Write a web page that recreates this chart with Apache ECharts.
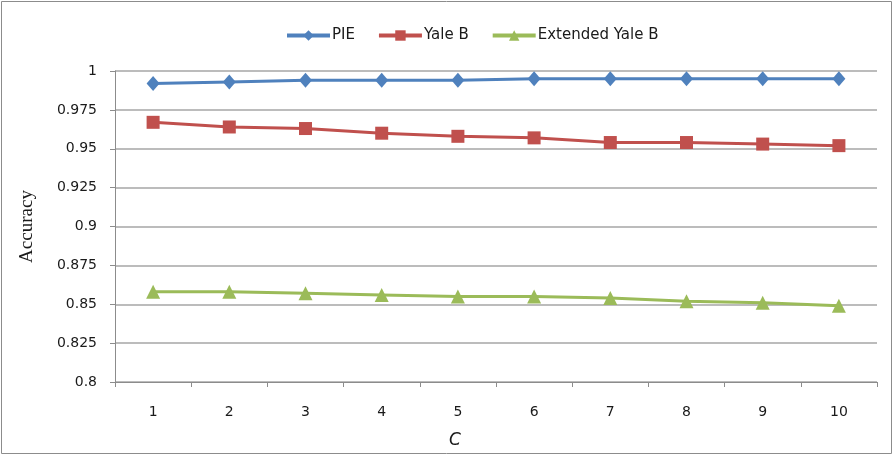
<!DOCTYPE html>
<html>
<head>
<meta charset="utf-8">
<script src="https://cdn.jsdelivr.net/npm/echarts@6/dist/echarts.min.js"></script>
<style>
  html, body { margin: 0; padding: 0; background: #fff; }
  #chart { width: 894px; height: 456px; }
</style>
</head>
<body>
<div id="chart"></div>
<script>
// Category axis: parameter C
const categories = ['1', '2', '3', '4', '5', '6', '7', '8', '9', '10'];

// Accuracy per dataset
const pieValues = [0.992, 0.993, 0.994, 0.994, 0.994, 0.995, 0.995, 0.995, 0.995, 0.995];
const yaleBValues = [0.967, 0.964, 0.963, 0.960, 0.958, 0.957, 0.954, 0.954, 0.953, 0.952];
const extYaleBValues = [0.858, 0.858, 0.857, 0.856, 0.855, 0.855, 0.854, 0.852, 0.851, 0.849];

// Y axis ticks
const yMin = 0.8, yMax = 1.0, yStep = 0.025;

const labelFont = 'DejaVu Sans';
const chart = echarts.init(document.getElementById('chart'), null, { renderer: 'canvas' });

function lineSeries(name, data, color, symbol, size) {
  return {
    name: name,
    type: 'line',
    data: data,
    symbol: symbol,
    symbolSize: size,
    lineStyle: { color: color, width: 3 },
    itemStyle: { color: color },
    emphasis: { disabled: true },
    animation: false
  };
}

chart.setOption({
  animation: false,
  backgroundColor: '#fff',
  graphic: [{
    type: 'rect',
    shape: { x: 1.5, y: 1.5, width: 890, height: 452 },
    style: { fill: 'none', stroke: '#8c8c8c', lineWidth: 1 },
    silent: true
  }],
  legend: {
    top: 23,
    left: 280,
    itemWidth: 43,
    itemHeight: 13,
    itemGap: 22,
    lineStyle: { width: 4 },
    textStyle: { fontFamily: labelFont, fontSize: 15, color: '#1a1a1a', padding: [0, 0, 0, -3] },
    data: ['PIE', 'Yale B', 'Extended Yale B']
  },
  grid: { left: 115, right: 17, top: 71, bottom: 74, containLabel: false },
  xAxis: {
    type: 'category',
    data: categories,
    boundaryGap: true,
    name: 'C',
    nameLocation: 'middle',
    nameGap: 50,
    nameTextStyle: {
      fontFamily: labelFont, fontStyle: 'italic', fontSize: 17, color: '#1a1a1a',
      padding: [0, 82, 0, 0]
    },
    axisLine: { lineStyle: { color: '#8c8c8c', width: 1 } },
    axisTick: { show: true, alignWithLabel: false, length: 5, lineStyle: { color: '#8c8c8c' } },
    axisLabel: { fontFamily: labelFont, fontSize: 14, color: '#1a1a1a', margin: 23 },
    splitLine: { show: false }
  },
  yAxis: {
    type: 'value',
    min: yMin,
    max: yMax,
    interval: yStep,
    name: 'Accuracy',
    nameLocation: 'middle',
    nameRotate: 90,
    nameGap: 78,
    nameTextStyle: { fontFamily: 'Liberation Serif', fontSize: 19, color: '#1a1a1a' },
    axisLine: { show: true, lineStyle: { color: '#8c8c8c', width: 1 } },
    axisTick: { show: true, length: 5, inside: false, lineStyle: { color: '#8c8c8c' } },
    axisLabel: {
      fontFamily: labelFont, fontSize: 14, color: '#1a1a1a', margin: 18,
      formatter: v => String(parseFloat(v.toFixed(3)))
    },
    splitLine: { show: true, lineStyle: { color: '#a6a6a6', width: 1.5 } }
  },
  series: [
    lineSeries('PIE', pieValues, '#4F81BD', 'diamond', [13, 15]),
    lineSeries('Yale B', yaleBValues, '#C0504D', 'rect', 13),
    lineSeries('Extended Yale B', extYaleBValues, '#9BBB59', 'triangle', 14)
  ]
});
</script>
</body>
</html>
